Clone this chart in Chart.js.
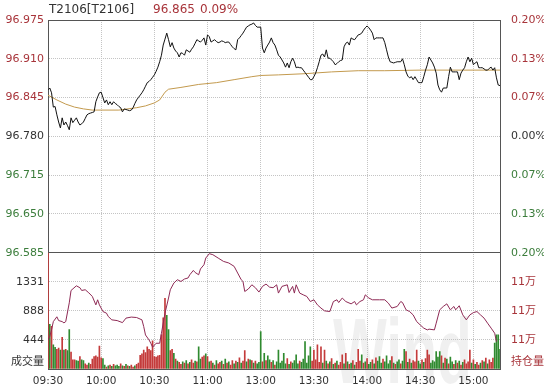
<!DOCTYPE html>
<html>
<head>
<meta charset="utf-8">
<script src="https://cdn.jsdelivr.net/npm/chart.js@4/dist/chart.umd.min.js"></script>
<style>
  html, body { margin: 0; padding: 0; background: #fff; }
</style>
</head>
<body>
<canvas id="chart" width="544" height="390"></canvas>
<script>
// T2106 intraday, x = minutes since 09:30 (11:30-13:00 break removed)
const code = 'T2106[T2106]';
const lastPrice = '96.865';
const lastChange = '0.09%';
const prevSettle = 96.780;

const timeTicks = [0, 30, 60, 90, 120, 150, 180, 210, 240];
const timeLabels = ['09:30', '10:00', '10:30', '11:00', '13:00', '13:30', '14:00', '14:30', '15:00'];

const priceTicks = [96.585, 96.650, 96.715, 96.780, 96.845, 96.910, 96.975];
const volumeTicks = [0, 444, 888, 1331, 1775];
const volumeTickLabels = [['成交量', ''], '444', '888', '1331', ''];
const oiTicks = [112000, 112200, 112400, 112600, 112800];
const oiTickLabels = [['持仓量', ''], '11万', '11万', '11万', ''];

// one value per minute
const price = [
  96.858, 96.861, 96.853, 96.829, 96.830, 96.816, 96.804, 96.794, 96.811, 96.799,
  96.804, 96.798, 96.791, 96.811, 96.803, 96.807, 96.811, 96.804, 96.799, 96.801,
  96.804, 96.810, 96.816, 96.818, 96.819, 96.820, 96.821, 96.838, 96.846, 96.853,
  96.854, 96.845, 96.836, 96.841, 96.833, 96.838, 96.833, 96.838, 96.835, 96.833,
  96.830, 96.828, 96.821, 96.826, 96.825, 96.824, 96.823, 96.824, 96.828, 96.835,
  96.841, 96.845, 96.849, 96.853, 96.858, 96.864, 96.870, 96.872, 96.875, 96.879,
  96.883, 96.889, 96.896, 96.905, 96.916, 96.933, 96.943, 96.953, 96.942, 96.930,
  96.937, 96.928, 96.923, 96.920, 96.913, 96.920, 96.919, 96.916, 96.925, 96.923,
  96.921, 96.926, 96.930, 96.936, 96.942, 96.940, 96.938, 96.941, 96.945, 96.933,
  96.950, 96.947, 96.938, 96.940, 96.942, 96.939, 96.937, 96.938, 96.940, 96.939,
  96.937, 96.938, 96.938, 96.934, 96.930, 96.927, 96.925, 96.942, 96.945, 96.949,
  96.953, 96.958, 96.963, 96.965, 96.967, 96.968, 96.970, 96.966, 96.963, 96.963,
  96.963, 96.928, 96.920, 96.928, 96.933, 96.938, 96.945, 96.937, 96.933, 96.925,
  96.916, 96.913, 96.908, 96.903, 96.896, 96.903, 96.895, 96.905, 96.911, 96.905,
  96.895, 96.896, 96.895, 96.895, 96.891, 96.887, 96.883, 96.879, 96.875, 96.875,
  96.880, 96.886, 96.895, 96.905, 96.916, 96.918, 96.913, 96.925, 96.911, 96.911,
  96.908, 96.905, 96.900, 96.902, 96.905, 96.907, 96.908, 96.930, 96.936, 96.938,
  96.933, 96.945, 96.943, 96.942, 96.946, 96.950, 96.951, 96.953, 96.958, 96.962,
  96.965, 96.962, 96.958, 96.953, 96.942, 96.945, 96.945, 96.945, 96.945, 96.945,
  96.937, 96.925, 96.913, 96.905, 96.904, 96.903, 96.904, 96.905, 96.905, 96.905,
  96.910, 96.900, 96.888, 96.881, 96.878, 96.880, 96.875, 96.880, 96.875, 96.870,
  96.870, 96.870, 96.880, 96.891, 96.900, 96.913, 96.908, 96.903, 96.896, 96.886,
  96.866, 96.858, 96.854, 96.861, 96.861, 96.861, 96.880, 96.896, 96.888, 96.888,
  96.888, 96.888, 96.875, 96.886, 96.891, 96.895, 96.905, 96.913, 96.905, 96.911,
  96.900, 96.903, 96.905, 96.895, 96.895, 96.895, 96.893, 96.891, 96.891, 96.894,
  96.896, 96.891, 96.895, 96.878, 96.866, 96.865
];

const avgTimes = [0, 5, 10, 15, 20, 25, 30, 40, 50, 55, 60, 63, 66, 68, 75, 85, 95, 105, 115, 120, 130, 145, 160, 175, 190, 210, 255];
const avgPrice = [96.849, 96.841, 96.834, 96.829, 96.826, 96.824, 96.824, 96.824, 96.828, 96.831, 96.836, 96.841, 96.854, 96.859,
  96.862, 96.867, 96.870, 96.875, 96.880, 96.882, 96.883, 96.885, 96.888, 96.890, 96.890, 96.891, 96.891];

const volume = [
  1775, 680, 650, 370, 330, 300, 320, 290, 485, 290,
  300, 280, 600, 260, 140, 140, 130, 120, 190, 140,
  130, 80, 60, 90, 70, 150, 190, 200, 180, 350,
  170, 160, 60, 30, 50, 60, 40, 70, 50, 60,
  40, 80, 50, 40, 70, 50, 40, 60, 30, 50,
  70, 90, 210, 230, 290, 250, 340, 300, 280, 430,
  190, 180, 200, 210, 520, 780, 1080, 820, 600, 280,
  300, 240, 150, 120, 100, 70, 110, 90, 130, 80,
  100, 140, 90, 120, 110, 340, 150, 180, 200, 230,
  190, 110, 120, 90, 60, 130, 80, 100, 120, 70,
  150, 90, 110, 60, 130, 80, 120, 100, 170, 90,
  120, 280, 110, 150, 140, 130, 90, 120, 80, 100,
  570, 110, 240, 130, 200, 140, 100, 130, 60, 110,
  290, 90, 120, 240, 80, 160, 70, 110, 90, 130,
  215, 80, 120, 100, 150, 420, 90, 200, 340, 120,
  290, 140, 368, 100, 340, 90, 290, 120, 80, 110,
  160, 70, 90, 120, 60, 100, 215, 80, 240, 110,
  70, 90, 130, 60, 100, 300, 120, 215, 90, 110,
  160, 70, 100, 140, 80, 170, 120, 190, 90, 150,
  110, 200, 80, 130, 190, 90, 70, 110, 140, 80,
  120, 300, 265, 100, 150, 90, 130, 110, 290, 120,
  80, 140, 100, 160, 290, 215, 90, 130, 110, 265,
  180, 265, 200, 90, 165, 150, 80, 180, 110, 70,
  130, 90, 120, 60, 100, 140, 80, 110, 290, 90,
  140, 70, 100, 60, 90, 130, 110, 165, 80, 140,
  100, 165, 395, 520, 520, 300
];
// r = up minute, g = down minute
const volumeSide =
  'rgrggrrgrg' + 'rggrrrggrg' + 'grrgrrrrrr' + 'rggrgrgrgg' + 'grgrgrgrrg' +
  'rrrrrrrrrr' + 'rrrrrrrggr' + 'rgrgrrgrgr' + 'grrgrggrrg' + 'rgrgrgrrgr' +
  'grgrrgrgrg' + 'rrgrgrgrgg' + 'grgrggrgrg' + 'gggggrgrgg' + 'ggrggggggr' +
  'rrrrrgrgrg' + 'rgrgrrrgrg' + 'rgrgrrrgrg' + 'rggrgrgggr' + 'ggggrgrggr' +
  'ggrgrgrrrg' + 'grgrrrgggg' + 'ggrgrgrggr' + 'grgrgrrrrg' + 'rgrrgrgrgr' +
  'rrgggg';

const oiTimes = [0, 1, 2, 3, 5, 6, 8, 9, 10, 12, 13, 16, 18, 19, 21, 23, 25, 27, 28, 29, 31, 33, 34, 36, 39, 42, 44, 47, 50,
  53, 54, 55, 57, 58, 59, 61, 63, 64, 66, 68, 69, 71, 73, 75, 77, 79, 80, 82, 83, 85, 86, 88, 89, 91, 93, 96, 99,
  102, 105, 107, 109, 110, 111, 113, 115, 117, 119, 121, 123, 125, 127, 129, 130, 132, 135, 136, 138, 139, 140,
  142, 144, 146, 148, 150, 152, 154, 156, 159, 161, 163, 164, 166, 168, 171, 173, 174, 176, 178, 179, 181, 183,
  187, 190, 192, 194, 197, 199, 200, 202, 204, 206, 208, 210, 212, 214, 215, 218, 219, 221, 223, 225, 227, 229,
  230, 232, 234, 236, 238, 240, 242, 244, 246, 248, 250, 252, 253];
const openInterest = [112200, 112223, 112269, 112326, 112359, 112333, 112326, 112317, 112326, 112455, 112540, 112572,
  112559, 112540, 112545, 112524, 112499, 112441, 112476, 112441, 112395, 112384, 112361, 112338, 112333, 112319,
  112350, 112357, 112354, 112338, 112292, 112234, 112200, 112177, 112150, 112177, 112177, 112246, 112384, 112488,
  112545, 112591, 112614, 112602, 112619, 112626, 112648, 112678, 112664, 112648, 112688, 112717, 112763, 112793,
  112786, 112763, 112740, 112729, 112706, 112660, 112614, 112602, 112533, 112550, 112579, 112559, 112529, 112568,
  112584, 112563, 112559, 112579, 112522, 112568, 112579, 112526, 112568, 112522, 112579, 112522, 112510, 112499,
  112464, 112476, 112441, 112419, 112400, 112395, 112464, 112476, 112457, 112488, 112464, 112448, 112464, 112441,
  112464, 112476, 112510, 112488, 112476, 112476, 112476, 112453, 112419, 112430, 112464, 112457, 112407, 112395,
  112372, 112326, 112303, 112281, 112269, 112274, 112269, 112315, 112407, 112430, 112448, 112407, 112430, 112407,
  112435, 112372, 112338, 112372, 112388, 112395, 112372, 112350, 112315, 112281, 112246, 112188];

const RED = '#a8343a';
const GREEN = '#3b7d3b';
const TEXT = '#333333';
const FRAME = '#555555';
const GRID = '#c4c4c4';
const FONT = { family: '"DejaVu Sans", "Noto Sans CJK SC", sans-serif', size: 11 };

const setTicks = values => scale => { scale.ticks = values.map(v => ({ value: v })); };
const fixWidth = w => scale => { scale.width = w; };
const isEdge = (ctx, lo, hi) => ctx.tick && (ctx.tick.value === lo || ctx.tick.value === hi);
const levelColor = v => v > prevSettle + 1e-6 ? RED : (v < prevSettle - 1e-6 ? GREEN : TEXT);

const header = {
  id: 'header',
  beforeDraw(chart) {
    const c = chart.ctx;
    c.save();
    // faint Wind watermark
    c.fillStyle = 'rgba(0,0,0,0.06)';
    c.font = 'bold 92px "Liberation Sans", sans-serif';
    c.textBaseline = 'top';
    c.translate(333, 312);
    c.scale(0.62, 1);
    c.fillText('Wind', 0, 0);
    c.restore();
  },
  afterDraw(chart) {
    const c = chart.ctx;
    c.save();
    c.font = '12px "DejaVu Sans", sans-serif';
    c.textBaseline = 'middle';
    c.fillStyle = TEXT;
    c.fillText(code, 49, 10);
    c.fillStyle = RED;
    c.fillText(lastPrice, 153, 10);
    c.fillText(lastChange, 200, 10);
    c.restore();
  }
};

new Chart(document.getElementById('chart'), {
  data: {
    datasets: [
      {
        type: 'line',
        data: price.map((v, i) => ({ x: i, y: v })),
        yAxisID: 'yP',
        borderColor: '#111111',
        borderWidth: 1,
        pointRadius: 0
      },
      {
        type: 'line',
        data: avgTimes.map((t, i) => ({ x: t, y: avgPrice[i] })),
        yAxisID: 'yP',
        borderColor: '#c39a4e',
        borderWidth: 1,
        pointRadius: 0
      },
      {
        type: 'line',
        data: oiTimes.map((t, i) => ({ x: t, y: openInterest[i] })),
        yAxisID: 'yOI',
        borderColor: '#8e2a55',
        borderWidth: 1,
        pointRadius: 0
      },
      {
        type: 'bar',
        data: volume.map((v, i) => ({ x: i, y: v })),
        yAxisID: 'yV',
        backgroundColor: volume.map((v, i) => volumeSide[i] === 'r' ? '#c43a3a' : '#2f8a2f'),
        barThickness: 1,
        grouped: false
      }
    ]
  },
  options: {
    responsive: false,
    animation: false,
    events: [],
    layout: { padding: { top: 20, left: 0, right: 0, bottom: 0 } },
    plugins: { legend: { display: false }, tooltip: { enabled: false } },
    scales: {
      x: {
        type: 'linear',
        min: 0,
        max: 255,
        offset: false,
        afterBuildTicks: setTicks(timeTicks),
        afterFit: s => { s.height = 21; },
        ticks: {
          callback: v => timeLabels[timeTicks.indexOf(v)],
          color: TEXT,
          font: { family: FONT.family, size: 10.5 },
          padding: 6,
          maxRotation: 0,
          autoSkip: false
        },
        grid: { offset: false, color: ctx => ctx.tick && ctx.tick.value === 0 ? 'rgba(0,0,0,0)' : GRID, drawTicks: false },
        border: { color: FRAME, dash: [1, 1] }
      },
      yV: {
        type: 'linear',
        position: 'left',
        stack: 'left',
        stackWeight: 1,
        min: 0,
        max: 1775,
        afterBuildTicks: setTicks(volumeTicks),
        afterFit: fixWidth(48),
        ticks: { callback: (v, i) => volumeTickLabels[i], color: TEXT, font: FONT, padding: 4, autoSkip: false },
        grid: { color: ctx => isEdge(ctx, 0, 1775) ? FRAME : GRID, drawTicks: false },
        border: { color: FRAME, dash: ctx => isEdge(ctx, 0, 1775) ? [] : [1, 1] }
      },
      yP: {
        type: 'linear',
        position: 'left',
        stack: 'left',
        stackWeight: 2,
        min: 96.585,
        max: 96.975,
        afterBuildTicks: setTicks(priceTicks),
        afterFit: fixWidth(48),
        ticks: {
          callback: v => v.toFixed(3),
          color: ctx => levelColor(ctx.tick.value),
          font: FONT,
          padding: 4,
          autoSkip: false
        },
        grid: { color: ctx => isEdge(ctx, 96.585, 96.975) ? FRAME : GRID, drawTicks: false },
        border: { color: FRAME, dash: ctx => isEdge(ctx, 96.585, 96.975) ? [] : [1, 1] }
      },
      yPct: {
        type: 'linear',
        position: 'right',
        stack: 'right',
        stackWeight: 2,
        min: 96.585,
        max: 96.975,
        afterBuildTicks: setTicks(priceTicks),
        afterFit: fixWidth(44),
        ticks: {
          callback: v => Math.abs((v - prevSettle) / prevSettle * 100).toFixed(2) + '%',
          color: ctx => levelColor(ctx.tick.value),
          font: FONT,
          padding: 3,
          autoSkip: false
        },
        grid: { display: false },
        border: { color: FRAME }
      },
      yOI: {
        type: 'linear',
        position: 'right',
        stack: 'right',
        stackWeight: 1,
        min: 112000,
        max: 112800,
        afterBuildTicks: setTicks(oiTicks),
        afterFit: fixWidth(44),
        ticks: { callback: (v, i) => oiTickLabels[i], color: RED, font: FONT, padding: 3, autoSkip: false },
        grid: { display: false },
        border: { color: FRAME }
      }
    }
  },
  plugins: [header]
});
</script>
</body>
</html>
